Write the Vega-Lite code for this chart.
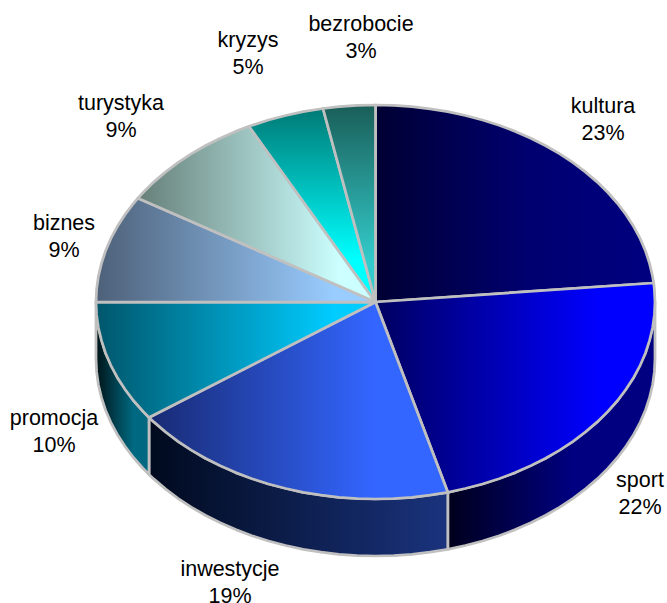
{"$schema":"https://vega.github.io/schema/vega-lite/v6.json","width":667,"height":603,"padding":0,"autosize":{"type":"none"},"background":"white","config":{"view":{"stroke":null}},
"encoding":{"x":{"field":"x","type":"quantitative","axis":null,"scale":{"domain":[0,667],"nice":false,"zero":false}},"y":{"field":"y","type":"quantitative","axis":null,"scale":{"domain":[0,603],"reverse":true,"nice":false,"zero":false}},"order":{"field":"i","type":"quantitative"}},
"layer":[
{"data":{"values":[{"i":0,"x":655,"y":302},{"i":1,"x":652.6,"y":327.7},{"i":2,"x":645.5,"y":353},{"i":3,"x":633.7,"y":377.4},{"i":4,"x":617.6,"y":400.5},{"i":5,"x":597.3,"y":421.9},{"i":6,"x":573.1,"y":441.3},{"i":7,"x":545.7,"y":458.3},{"i":8,"x":515.3,"y":472.6},{"i":9,"x":482.5,"y":484},{"i":10,"x":447.8,"y":492.3},{"i":11,"x":447.8,"y":549.3},{"i":12,"x":465.3,"y":545.5},{"i":13,"x":482.5,"y":541},{"i":14,"x":499.1,"y":535.7},{"i":15,"x":515.3,"y":529.6},{"i":16,"x":530.8,"y":522.8},{"i":17,"x":545.7,"y":515.3},{"i":18,"x":559.8,"y":507.1},{"i":19,"x":573.1,"y":498.3},{"i":20,"x":585.6,"y":488.9},{"i":21,"x":597.3,"y":478.9},{"i":22,"x":607.9,"y":468.5},{"i":23,"x":617.6,"y":457.5},{"i":24,"x":626.2,"y":446.1},{"i":25,"x":633.7,"y":434.4},{"i":26,"x":640.2,"y":422.3},{"i":27,"x":645.5,"y":410},{"i":28,"x":649.6,"y":397.4},{"i":29,"x":652.6,"y":384.7},{"i":30,"x":654.4,"y":371.9},{"i":31,"x":655,"y":359},{"i":32,"x":655,"y":302}]},
"mark":{"type":"line","strokeWidth":2.75,"stroke":"#c0c0c0","strokeJoin":"round","fill":{"gradient":"linear","x1":0,"x2":1,"y1":0,"y2":0,"stops":[{"offset":0,"color":"#00001c"},{"offset":0.6,"color":"#000080"},{"offset":1,"color":"#000080"}]}}},
{"data":{"values":[{"i":0,"x":447.8,"y":492.3},{"i":1,"x":412,"y":497.3},{"i":2,"x":375.5,"y":499},{"i":3,"x":339,"y":497.3},{"i":4,"x":303.2,"y":492.3},{"i":5,"x":268.5,"y":484},{"i":6,"x":235.7,"y":472.6},{"i":7,"x":205.3,"y":458.3},{"i":8,"x":177.9,"y":441.3},{"i":9,"x":149,"y":417.5},{"i":10,"x":149,"y":474.5},{"i":11,"x":153.7,"y":478.9},{"i":12,"x":165.4,"y":488.9},{"i":13,"x":177.9,"y":498.3},{"i":14,"x":191.2,"y":507.1},{"i":15,"x":205.3,"y":515.3},{"i":16,"x":220.2,"y":522.8},{"i":17,"x":235.7,"y":529.6},{"i":18,"x":251.9,"y":535.7},{"i":19,"x":268.5,"y":541},{"i":20,"x":285.7,"y":545.5},{"i":21,"x":303.2,"y":549.3},{"i":22,"x":321,"y":552.2},{"i":23,"x":339,"y":554.3},{"i":24,"x":357.2,"y":555.6},{"i":25,"x":375.5,"y":556},{"i":26,"x":393.8,"y":555.6},{"i":27,"x":412,"y":554.3},{"i":28,"x":430,"y":552.2},{"i":29,"x":447.8,"y":549.3},{"i":30,"x":447.8,"y":492.3}]},
"mark":{"type":"line","strokeWidth":2.75,"stroke":"#c0c0c0","strokeJoin":"round","fill":{"gradient":"linear","x1":0,"x2":1,"y1":0,"y2":0,"stops":[{"offset":0,"color":"#000a1e"},{"offset":1,"color":"#1a337d"}]}}},
{"data":{"values":[{"i":0,"x":149,"y":417.5},{"i":1,"x":133.4,"y":400.5},{"i":2,"x":117.3,"y":377.4},{"i":3,"x":105.5,"y":353},{"i":4,"x":98.4,"y":327.7},{"i":5,"x":96,"y":302},{"i":6,"x":96,"y":359},{"i":7,"x":96.6,"y":371.9},{"i":8,"x":98.4,"y":384.7},{"i":9,"x":101.4,"y":397.4},{"i":10,"x":105.5,"y":410},{"i":11,"x":110.8,"y":422.3},{"i":12,"x":117.3,"y":434.4},{"i":13,"x":124.8,"y":446.1},{"i":14,"x":133.4,"y":457.5},{"i":15,"x":143.1,"y":468.5},{"i":16,"x":149,"y":474.5},{"i":17,"x":149,"y":417.5}]},
"mark":{"type":"line","strokeWidth":2.75,"stroke":"#c0c0c0","strokeJoin":"round","fill":{"gradient":"linear","x1":0,"x2":1,"y1":0,"y2":0,"stops":[{"offset":0,"color":"#001418"},{"offset":0.7,"color":"#006880"},{"offset":1,"color":"#006880"}]}}},
{"data":{"values":[{"i":0,"x":375.5,"y":302},{"i":1,"x":375.5,"y":105},{"i":2,"x":393.8,"y":105.4},{"i":3,"x":412,"y":106.7},{"i":4,"x":430,"y":108.8},{"i":5,"x":447.8,"y":111.7},{"i":6,"x":465.3,"y":115.5},{"i":7,"x":482.5,"y":120},{"i":8,"x":499.1,"y":125.3},{"i":9,"x":515.3,"y":131.4},{"i":10,"x":530.8,"y":138.2},{"i":11,"x":545.7,"y":145.7},{"i":12,"x":559.8,"y":153.9},{"i":13,"x":573.1,"y":162.7},{"i":14,"x":585.6,"y":172.1},{"i":15,"x":597.3,"y":182.1},{"i":16,"x":607.9,"y":192.5},{"i":17,"x":617.6,"y":203.5},{"i":18,"x":626.2,"y":214.9},{"i":19,"x":633.7,"y":226.6},{"i":20,"x":640.2,"y":238.7},{"i":21,"x":645.5,"y":251},{"i":22,"x":649.6,"y":263.6},{"i":23,"x":652.6,"y":276.3},{"i":24,"x":653.7,"y":283},{"i":25,"x":375.5,"y":302}]},
"mark":{"type":"line","strokeWidth":2.75,"stroke":"#c0c0c0","strokeJoin":"round","fill":{"gradient":"linear","x1":0,"x2":1,"y1":0,"y2":0,"stops":[{"offset":0,"color":"#000033"},{"offset":0.55,"color":"#000070"},{"offset":1,"color":"#000080"}]}}},
{"data":{"values":[{"i":0,"x":375.5,"y":302},{"i":1,"x":653.7,"y":283},{"i":2,"x":654.4,"y":289.1},{"i":3,"x":655,"y":302},{"i":4,"x":654.4,"y":314.9},{"i":5,"x":652.6,"y":327.7},{"i":6,"x":649.6,"y":340.4},{"i":7,"x":645.5,"y":353},{"i":8,"x":640.2,"y":365.3},{"i":9,"x":633.7,"y":377.4},{"i":10,"x":626.2,"y":389.1},{"i":11,"x":617.6,"y":400.5},{"i":12,"x":607.9,"y":411.5},{"i":13,"x":597.3,"y":421.9},{"i":14,"x":585.6,"y":431.9},{"i":15,"x":573.1,"y":441.3},{"i":16,"x":559.8,"y":450.1},{"i":17,"x":545.7,"y":458.3},{"i":18,"x":530.8,"y":465.8},{"i":19,"x":515.3,"y":472.6},{"i":20,"x":499.1,"y":478.7},{"i":21,"x":482.5,"y":484},{"i":22,"x":465.3,"y":488.5},{"i":23,"x":447.8,"y":492.3},{"i":24,"x":375.5,"y":302}]},
"mark":{"type":"line","strokeWidth":2.75,"stroke":"#c0c0c0","strokeJoin":"round","fill":{"gradient":"linear","x1":0,"x2":1,"y1":0,"y2":0,"stops":[{"offset":0,"color":"#000060"},{"offset":0.8,"color":"#0000ff"},{"offset":1,"color":"#0000ff"}]}}},
{"data":{"values":[{"i":0,"x":375.5,"y":302},{"i":1,"x":447.8,"y":492.3},{"i":2,"x":430,"y":495.2},{"i":3,"x":412,"y":497.3},{"i":4,"x":393.8,"y":498.6},{"i":5,"x":375.5,"y":499},{"i":6,"x":357.2,"y":498.6},{"i":7,"x":339,"y":497.3},{"i":8,"x":321,"y":495.2},{"i":9,"x":303.2,"y":492.3},{"i":10,"x":285.7,"y":488.5},{"i":11,"x":268.5,"y":484},{"i":12,"x":251.9,"y":478.7},{"i":13,"x":235.7,"y":472.6},{"i":14,"x":220.2,"y":465.8},{"i":15,"x":205.3,"y":458.3},{"i":16,"x":191.2,"y":450.1},{"i":17,"x":177.9,"y":441.3},{"i":18,"x":165.4,"y":431.9},{"i":19,"x":153.7,"y":421.9},{"i":20,"x":149,"y":417.5},{"i":21,"x":375.5,"y":302}]},
"mark":{"type":"line","strokeWidth":2.75,"stroke":"#c0c0c0","strokeJoin":"round","fill":{"gradient":"linear","x1":0,"x2":1,"y1":0,"y2":0,"stops":[{"offset":0,"color":"#182a72"},{"offset":0.75,"color":"#3366ff"},{"offset":1,"color":"#3366ff"}]}}},
{"data":{"values":[{"i":0,"x":375.5,"y":302},{"i":1,"x":149,"y":417.5},{"i":2,"x":143.1,"y":411.5},{"i":3,"x":133.4,"y":400.5},{"i":4,"x":124.8,"y":389.1},{"i":5,"x":117.3,"y":377.4},{"i":6,"x":110.8,"y":365.3},{"i":7,"x":105.5,"y":353},{"i":8,"x":101.4,"y":340.4},{"i":9,"x":98.4,"y":327.7},{"i":10,"x":96.6,"y":314.9},{"i":11,"x":96,"y":302},{"i":12,"x":375.5,"y":302}]},
"mark":{"type":"line","strokeWidth":2.75,"stroke":"#c0c0c0","strokeJoin":"round","fill":{"gradient":"linear","x1":0,"x2":1,"y1":0,"y2":0,"stops":[{"offset":0,"color":"#00566b"},{"offset":0.85,"color":"#00ccff"},{"offset":1,"color":"#00ccff"}]}}},
{"data":{"values":[{"i":0,"x":375.5,"y":302},{"i":1,"x":96,"y":302},{"i":2,"x":96.6,"y":289.1},{"i":3,"x":98.4,"y":276.3},{"i":4,"x":101.4,"y":263.6},{"i":5,"x":105.5,"y":251},{"i":6,"x":110.8,"y":238.7},{"i":7,"x":117.3,"y":226.6},{"i":8,"x":124.8,"y":214.9},{"i":9,"x":133.4,"y":203.5},{"i":10,"x":138,"y":198.2},{"i":11,"x":375.5,"y":302}]},
"mark":{"type":"line","strokeWidth":2.75,"stroke":"#c0c0c0","strokeJoin":"round","fill":{"gradient":"linear","x1":0,"x2":1,"y1":0,"y2":0,"stops":[{"offset":0,"color":"#4d6078"},{"offset":0.85,"color":"#99ccff"},{"offset":1,"color":"#99ccff"}]}}},
{"data":{"values":[{"i":0,"x":375.5,"y":302},{"i":1,"x":138,"y":198.2},{"i":2,"x":143.1,"y":192.5},{"i":3,"x":153.7,"y":182.1},{"i":4,"x":165.4,"y":172.1},{"i":5,"x":177.9,"y":162.7},{"i":6,"x":191.2,"y":153.9},{"i":7,"x":205.3,"y":145.7},{"i":8,"x":220.2,"y":138.2},{"i":9,"x":235.7,"y":131.4},{"i":10,"x":249,"y":126.3},{"i":11,"x":375.5,"y":302}]},
"mark":{"type":"line","strokeWidth":2.75,"stroke":"#c0c0c0","strokeJoin":"round","fill":{"gradient":"linear","x1":0,"x2":1,"y1":0,"y2":0,"stops":[{"offset":0,"color":"#667f78"},{"offset":0.85,"color":"#ccffff"},{"offset":1,"color":"#ccffff"}]}}},
{"data":{"values":[{"i":0,"x":375.5,"y":302},{"i":1,"x":249,"y":126.3},{"i":2,"x":268.5,"y":120},{"i":3,"x":285.7,"y":115.5},{"i":4,"x":303.2,"y":111.7},{"i":5,"x":323,"y":108.5},{"i":6,"x":375.5,"y":302}]},
"mark":{"type":"line","strokeWidth":2.75,"stroke":"#c0c0c0","strokeJoin":"round","fill":{"gradient":"linear","x1":0,"x2":0,"y1":0,"y2":1,"stops":[{"offset":0,"color":"#007a76"},{"offset":0.78,"color":"#00ffff"},{"offset":1,"color":"#00ffff"}]}}},
{"data":{"values":[{"i":0,"x":375.5,"y":302},{"i":1,"x":323,"y":108.5},{"i":2,"x":339,"y":106.7},{"i":3,"x":357.2,"y":105.4},{"i":4,"x":375.5,"y":105},{"i":5,"x":375.5,"y":302}]},
"mark":{"type":"line","strokeWidth":2.75,"stroke":"#c0c0c0","strokeJoin":"round","fill":{"gradient":"linear","x1":0,"x2":0,"y1":0,"y2":1,"stops":[{"offset":0,"color":"#1a5e58"},{"offset":0.8,"color":"#33cccc"},{"offset":1,"color":"#33cccc"}]}}},
{"data":{"values":[{"label":"kultura\n23%","x":603,"y":113},{"label":"sport\n22%","x":640,"y":487},{"label":"inwestycje\n19%","x":230,"y":576},{"label":"promocja\n10%","x":54,"y":425},{"label":"biznes\n9%","x":64,"y":230},{"label":"turystyka\n9%","x":121,"y":110},{"label":"kryzys\n5%","x":248,"y":47},{"label":"bezrobocie\n3%","x":361,"y":31}]},
"mark":{"type":"text","font":"Liberation Sans","fontSize":21.5,"lineHeight":26.5,"lineBreak":"\n","align":"center","baseline":"alphabetic","color":"#000000"},
"encoding":{"text":{"field":"label","type":"nominal"},"order":{"value":null}}}
]}
